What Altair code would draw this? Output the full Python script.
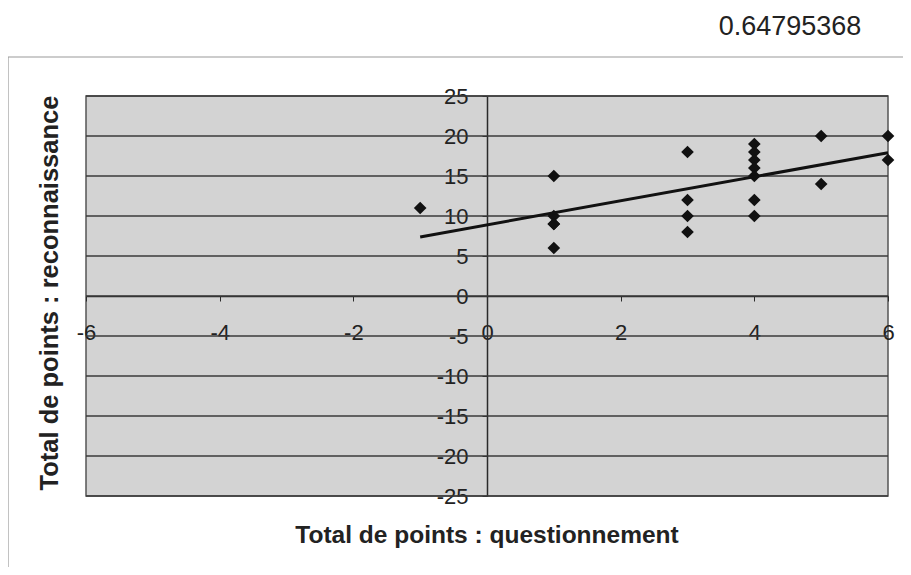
import altair as alt
import pandas as pd

# Data
questionnement = [-1, 1, 1, 1, 1, 1, 3, 3, 3, 3, 4, 4, 4, 4, 4, 4, 4, 5, 5, 6, 6]
reconnaissance = [11, 15, 10, 9, 9, 6, 18, 12, 10, 8, 19, 18, 17, 16, 15, 12, 10, 20, 14, 20, 17]
x_ticks = [-6, -4, -2, 0, 2, 4, 6]
y_ticks = [-25, -20, -15, -10, -5, 0, 5, 10, 15, 20, 25]
corner_value = ["0.64795368"]
x_title = ["Total de points : questionnement"]
y_title = ["Total de points : reconnaissance"]

W, H = 802, 400
FONT = "Liberation Sans"

pts = pd.DataFrame({"x": questionnement, "y": reconnaissance})
xs = alt.Scale(domain=[-6, 6], nice=False, zero=False)
ys = alt.Scale(domain=[-25, 25], nice=False, zero=False)

x_axis = alt.Axis(
    values=x_ticks, title=None, offset=-200, grid=False,
    domainColor="#2a2a2a", domainWidth=1.5, tickColor="#2a2a2a", tickSize=5,
    labelFont=FONT, labelFontSize=22, labelColor="#222222",
    labelBaseline="middle", labelPadding=31, labelOverlap=False,
    labelFlush=False, labelExpr="'' + datum.value")
y_axis = alt.Axis(
    values=y_ticks, title=None, offset=-401, grid=False,
    domainColor="#2a2a2a", domainWidth=1.5, tickColor="#2a2a2a", tickSize=5,
    labelFont=FONT, labelFontSize=22, labelColor="#222222",
    labelPadding=14, labelOverlap=False, labelFlush=False,
    labelExpr="'' + datum.value")

frame = alt.Chart(pd.DataFrame({"a": [0]})).mark_rect(
    fillOpacity=0, stroke="#9a9a9a", strokeWidth=1.2
).encode(x=alt.value(-78), y=alt.value(-39), x2=alt.value(905), y2=alt.value(600))

grid = alt.Chart(pd.DataFrame({"v": y_ticks})).mark_rule(
    color="#3a3a3a", strokeWidth=1.3
).encode(y=alt.Y("v:Q", scale=ys, axis=y_axis))

base = alt.Chart(pts)

points = base.mark_point(
    shape="diamond", filled=True, size=160, color="#111111", opacity=1
).encode(
    x=alt.X("x:Q", scale=xs, axis=x_axis),
    y=alt.Y("y:Q", scale=ys, axis=y_axis),
)

trend = base.transform_regression("x", "y").mark_line(
    color="#111111", strokeWidth=3
).encode(x=alt.X("x:Q", scale=xs, axis=x_axis), y=alt.Y("y:Q", scale=ys, axis=y_axis))

corner = alt.Chart(pd.DataFrame({"t": corner_value})).mark_text(
    font=FONT, fontSize=27, color="#222222", align="center", baseline="middle"
).encode(text="t:N", x=alt.value(704), y=alt.value(-69))

xt = alt.Chart(pd.DataFrame({"t": x_title})).mark_text(
    font=FONT, fontSize=24.5, fontWeight="bold", color="#222222",
    align="center", baseline="middle"
).encode(text="t:N", x=alt.value(401), y=alt.value(440))

yt = alt.Chart(pd.DataFrame({"t": y_title})).mark_text(
    font=FONT, fontSize=25.5, fontWeight="bold", color="#222222",
    align="center", baseline="middle", angle=270
).encode(text="t:N", x=alt.value(-36), y=alt.value(197))

chart = alt.layer(frame, grid, points, trend, corner, xt, yt).properties(
    width=W, height=H,
    autosize=alt.AutoSizeParams(type="none"),
    padding={"left": 78, "top": 88, "right": 15, "bottom": 71},
    background="#ffffff",
).configure_view(
    fill="#d3d3d3", stroke="#555555", strokeWidth=1.5
)

chart.save("out.html", embed_options={"renderer": "svg", "actions": False})
